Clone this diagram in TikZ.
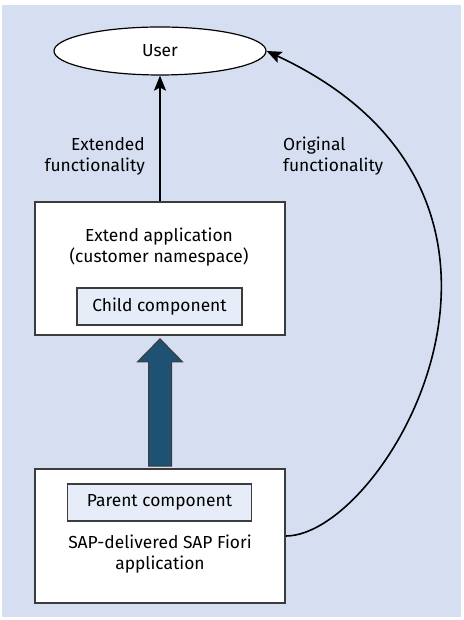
\documentclass[tikz,border=0pt]{standalone}
\usepackage{fontspec}
\setmainfont{Fira Sans}
\usetikzlibrary{positioning,arrows.meta,shapes.geometric,calc}
\definecolor{bgblue}{HTML}{D6DFF2}
\definecolor{compblue}{HTML}{E6ECF8}
\definecolor{arrowblue}{HTML}{1F5272}
\definecolor{frame}{HTML}{3C3C3C}

\begin{document}
\begin{tikzpicture}[x=1pt, y=1pt,
  font=\fontsize{17.4}{21}\selectfont, text=black,
  app/.style={draw=frame, line width=1.6pt, fill=white, minimum width=250pt, inner sep=0pt},
  comp/.style={draw=frame, line width=1.2pt, fill=compblue, minimum height=37pt, inner sep=0pt},
  lbl/.style={align=center, inner sep=0pt},
  arr/.style={-{Stealth[length=15pt, width=12pt, inset=3pt]}, line width=1.6pt},
  bigarrow/.style={fill=arrowblue, draw=frame, line width=1pt}]
  \fill[bgblue] (2,3) rectangle (461,615);
  \useasboundingbox (0,0) rectangle (463,620);
  \node[ellipse, draw, line width=1.2pt, fill=white, minimum width=212pt, minimum height=48pt, inner sep=0pt] (user) at (160,569) {User};
  \node[app, minimum height=133pt] (ext) at (160,351.5) {};
  \node[lbl] (exttxt) at (159,372.5) {Extend application\\(customer namespace)};
  \node[comp, minimum width=165pt] (child) at (159.5,313.5) {Child component};
  \node[app, minimum height=134pt] (sap) at (160,84) {};
  \node[comp, minimum width=184pt] (parent) at (159.5,117.5) {Parent component};
  \node[lbl] (saptxt) at (160,65.5) {SAP-delivered SAP Fiori\\application};
  \node[lbl, align=right, anchor=east] (extlbl) at (145,463.5) {Extended\\functionality};
  \node[lbl, align=left, anchor=west] (origlbl) at (283,463.5) {Original\\functionality};
  % parent -> child
  \draw[bigarrow] ($(ext.south)+(0,-3)$) -- ++(22.5,-23) -| ($(sap.north)+(11.5,2)$)
    -- ($(sap.north)+(-11.5,2)$) |- ($(ext.south)+(-22.5,-26)$) -- cycle;
  \draw[arr] (ext) -- (user);
  \draw[arr] (sap.east) .. controls +(100,0) and +(317,-148) .. (user.east);
\end{tikzpicture}
\end{document}
